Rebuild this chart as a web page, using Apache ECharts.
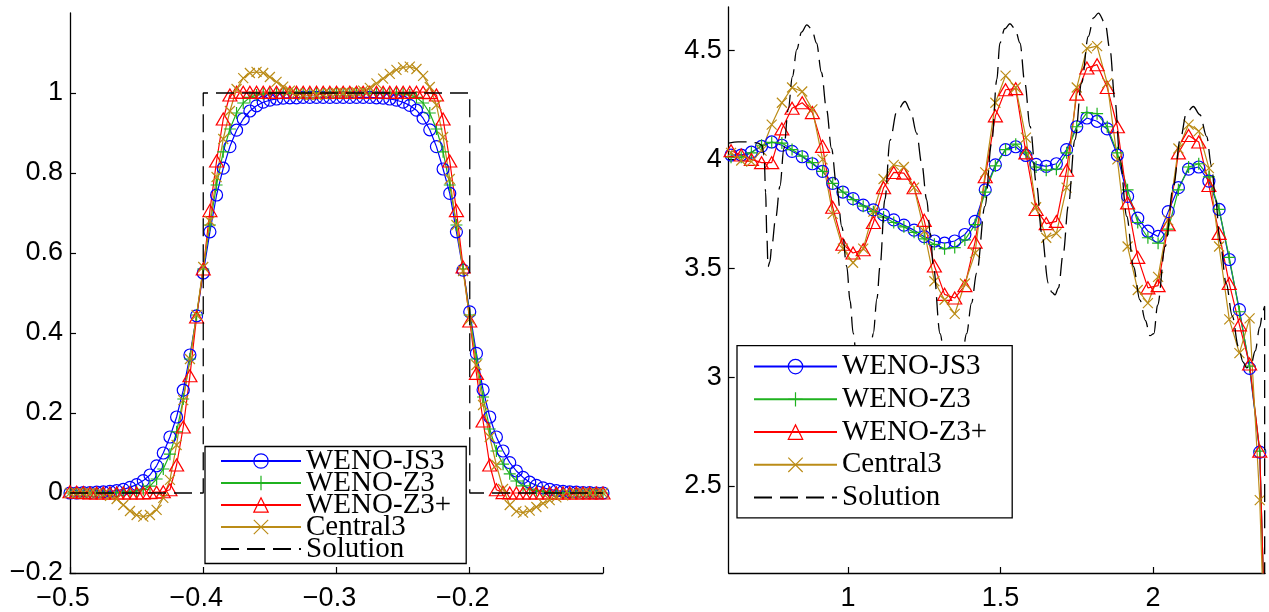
<!DOCTYPE html>
<html>
<head>
<meta charset="utf-8">
<script src="https://cdn.jsdelivr.net/npm/echarts@6/dist/echarts.min.js"></script>
<style>html,body{margin:0;padding:0;background:#fff;}#c{width:1269px;height:612px;}</style>
</head>
<body>
<div id="c"></div>
<script>
// ---------- names ----------
const seriesNames = ['WENO-JS3', 'WENO-Z3', 'WENO-Z3+', 'Central3', 'Solution'];

// ---------- left panel (square wave) ----------
const leftGridStart = -0.5, leftGridStep = 0.005, leftGridCount = 81;
const xLeft = Array.from({length: leftGridCount}, (_, i) => +(leftGridStart + i * leftGridStep).toFixed(4));

const jsLeft = [0,0,0.001,0.001,0.002,0.003,0.004,0.006,0.009,0.014,0.021,0.031,0.045,0.068,0.1,0.14,0.19,0.257,0.345,0.443,
  0.55,0.653,0.745,0.812,0.866,0.907,0.935,0.955,0.968,0.977,0.982,0.985,0.987,0.988,0.988,0.989,0.989,0.989,0.989,0.989,
  0.989,0.989,0.989,0.989,0.989,0.989,0.988,0.987,0.985,0.982,0.977,0.969,0.957,0.937,0.908,0.866,0.81,0.749,0.653,0.557,
  0.453,0.349,0.258,0.19,0.14,0.105,0.076,0.055,0.039,0.027,0.019,0.013,0.009,0.006,0.004,0.003,0.002,0.001,0.001,0,0];
const zLeft = [0,0,0,0,0,0,0.001,0.001,0.002,0.003,0.005,0.009,0.017,0.035,0.06,0.097,0.153,0.235,0.335,0.445,
  0.56,0.67,0.77,0.853,0.91,0.95,0.975,0.989,0.995,0.998,0.999,0.999,0.999,0.999,0.999,0.999,0.999,0.999,0.999,0.999,
  0.999,0.999,0.999,0.999,0.999,0.999,0.999,0.999,0.999,0.999,0.998,0.995,0.989,0.975,0.95,0.91,0.853,0.77,0.67,0.56,
  0.445,0.335,0.24,0.16,0.105,0.072,0.048,0.03,0.018,0.01,0.006,0.004,0.002,0.001,0.001,0.001,0,0,0,0,0];
const zpLeft = [0.003,0.002,0.001,0,0,0,0,0,0,0,0,0,0.001,0.002,0.003,0.008,0.07,0.165,0.293,0.44,
  0.56,0.706,0.83,0.935,0.995,1.002,1.002,1.002,1.002,1.002,1.002,1.002,1.002,1.002,1.002,1.002,1.002,1.002,1.002,1.002,
  1.002,1.002,1.002,1.002,1.002,1.002,1.002,1.002,1.002,1.002,1.002,1.002,1.002,1.002,1.001,0.995,0.935,0.83,0.706,0.565,
  0.43,0.299,0.18,0.07,0.008,0.001,0,0,0,0,0,0,0,0,0,0,0,0,0,0,0];
const cLeft = [0,0,0,0,-0.001,-0.003,-0.007,-0.015,-0.03,-0.045,-0.055,-0.059,-0.055,-0.042,-0.012,0.033,0.12,0.232,0.335,0.445,
  0.565,0.68,0.79,0.885,0.955,1.01,1.037,1.05,1.053,1.05,1.04,1.028,1.016,1.006,0.999,0.995,0.994,0.995,0.997,0.999,
  1.0,1.0,1.0,1.002,1.006,1.013,1.024,1.036,1.048,1.058,1.064,1.066,1.06,1.043,1.015,0.97,0.89,0.785,0.67,0.555,
  0.435,0.32,0.22,0.14,0.07,0.01,-0.03,-0.046,-0.049,-0.044,-0.035,-0.026,-0.018,-0.011,-0.006,-0.003,-0.001,0,0,0,0];
const solLeftX = [-0.5, -0.4, -0.4, -0.2, -0.2, -0.1];
const solLeftY = [0, 0, 1, 1, 0, 0];

const leftXTicks = [-0.5, -0.4, -0.3, -0.2, -0.1];
const leftXLabels = [-0.5, -0.4, -0.3, -0.2];
const leftYTicks = [-0.2, 0, 0.2, 0.4, 0.6, 0.8, 1];

// ---------- right panel (Shu-Osher density) ----------
const rightCellFirst = 168, rightCount = 54, domainLeft = -5, cellsPerUnit = 30;
const xRight = Array.from({length: rightCount}, (_, k) => +(domainLeft + (rightCellFirst + k + 0.5) / cellsPerUnit).toFixed(4));

const jsRight = [4.02,4.02,4.033,4.06,4.08,4.065,4.037,4.012,3.98,3.945,3.89,3.85,3.82,3.79,3.768,3.745,3.722,3.698,3.675,3.645,
  3.625,3.615,3.625,3.655,3.715,3.86,3.975,4.045,4.058,4.018,3.977,3.968,3.98,4.045,4.15,4.19,4.175,4.14,4.02,3.83,
  3.73,3.67,3.646,3.76,3.87,3.955,3.965,3.9,3.77,3.54,3.31,3.04,2.655,1.0];
const zRight = [4.01,4.01,4.03,4.065,4.078,4.075,4.045,4.015,3.985,3.945,3.89,3.85,3.815,3.785,3.76,3.735,3.71,3.69,3.665,3.635,
  3.61,3.59,3.595,3.63,3.7,3.85,3.97,4.045,4.07,4.03,3.965,3.95,3.955,4.03,4.15,4.215,4.21,4.15,4.03,3.86,
  3.71,3.64,3.615,3.68,3.86,3.965,3.98,3.92,3.77,3.55,3.3,3.05,2.66,1.0];
const zpRight = [4.04,4.02,4.0,3.985,3.985,4.14,4.235,4.26,4.215,4.06,3.78,3.61,3.57,3.585,3.71,3.87,3.94,3.937,3.87,3.72,
  3.51,3.38,3.363,3.42,3.62,3.92,4.2,4.32,4.325,4.03,3.77,3.705,3.715,3.95,4.3,4.42,4.435,4.33,4.15,3.8,
  3.55,3.41,3.42,3.7,4.03,4.11,4.08,3.88,3.66,3.43,3.24,3.06,2.66,1.0];
const cRight = [4.03,3.995,3.99,4.04,4.16,4.26,4.33,4.312,4.23,4.0,3.75,3.59,3.525,3.59,3.76,3.91,3.975,3.965,3.87,3.67,
  3.44,3.355,3.29,3.43,3.57,3.94,4.26,4.385,4.33,4.1,3.78,3.64,3.66,3.87,4.33,4.51,4.52,4.35,4.0,3.6,
  3.4,3.34,3.46,3.72,4.05,4.16,4.13,3.96,3.6,3.265,3.11,3.27,2.435,1.0];
const solRightX = [0.609,0.64,0.68,0.705,0.718,0.725,0.73,0.734,0.738,0.744,0.75,0.763,0.777,0.79,0.804,0.818,0.832,0.848,0.865,0.881,
  0.897,0.913,0.93,0.946,0.963,0.98,0.996,1.007,1.017,1.03,1.05,1.07,1.083,1.095,1.105,1.121,1.138,1.16,1.187,1.205,
  1.225,1.242,1.258,1.27,1.28,1.302,1.32,1.345,1.37,1.389,1.405,1.422,1.449,1.471,1.488,1.498,1.514,1.531,1.548,1.564,
  1.58,1.597,1.619,1.635,1.657,1.668,1.679,1.69,1.706,1.722,1.744,1.766,1.788,1.805,1.821,1.843,1.859,1.875,1.892,1.914,
  1.936,1.957,1.975,1.99,2.003,2.015,2.04,2.067,2.089,2.11,2.132,2.154,2.176,2.192,2.205,2.22,2.24,2.26,2.28,2.295,
  2.307,2.322,2.335,2.35,2.36,2.366,2.3662,2.45];
const solRightY = [4.075,4.08,4.08,4.075,4.065,4.02,3.85,3.65,3.507,3.53,3.6,3.73,3.876,4.05,4.228,4.38,4.504,4.585,4.618,4.6,
  4.534,4.4,4.228,4.05,3.876,3.69,3.508,3.35,3.202,3.06,3.0,3.06,3.2,3.36,3.508,3.815,4.088,4.22,4.266,4.225,
  4.121,3.98,3.815,3.66,3.508,3.2,3.04,2.98,3.04,3.2,3.34,3.478,3.784,4.075,4.366,4.534,4.6,4.623,4.6,4.534,
  4.35,4.151,3.876,3.662,3.432,3.39,3.378,3.41,3.57,3.784,4.09,4.351,4.565,4.65,4.672,4.626,4.504,4.274,3.998,3.738,
  3.508,3.355,3.26,3.19,3.2,3.33,3.6,3.876,4.09,4.213,4.243,4.205,4.105,3.968,3.82,3.62,3.43,3.28,3.14,3.07,
  3.042,3.06,3.12,3.23,3.3,3.325,1.0,1.0];

const rightXTicks = [1, 1.5, 2];
const rightYTicks = [2.5, 3, 3.5, 4, 4.5];

// ---------- styles ----------
const colors = {js: '#0000ff', z: '#1fb21f', zp: '#ff0000', c: '#bb8c17', sol: '#000000'};
const plusPath = 'path://M5,0L5,10M0,5L10,5';
const crossPath = 'path://M0,0L10,10M10,0L0,10';
const minus = v => String(v).replace('-', '\u2212');
const pairs = (xs, ys) => xs.map((x, i) => [x, ys[i]]);

function numSeries(name, color, symbol, size, xs, ys, idx) {
  return {
    type: 'line', name, xAxisIndex: idx, yAxisIndex: idx,
    data: pairs(xs, ys),
    symbol, symbolSize: size, showSymbol: true, clip: true,
    lineStyle: {color, width: 1.2},
    itemStyle: {color: 'rgba(0,0,0,0)', borderColor: color, borderWidth: 1.2},
    emphasis: {disabled: true}, z: 2
  };
}
function solSeries(xs, ys, idx, smooth) {
  return {
    type: 'line', name: 'Solution', xAxisIndex: idx, yAxisIndex: idx,
    data: pairs(xs, ys), symbol: 'none', clip: true,
    smooth: smooth, smoothMonotone: smooth ? 'x' : undefined,
    lineStyle: {color: '#000', width: 1.3, type: [18, 8]},
    itemStyle: {color: '#000'},
    emphasis: {disabled: true}, z: 3
  };
}
function panelSeries(xs, js, z, zp, c, idx) {
  return [
    numSeries('WENO-JS3', colors.js, 'circle', 12, xs, js, idx),
    numSeries('WENO-Z3', colors.z, plusPath, 12, xs, z, idx),
    numSeries('WENO-Z3+', colors.zp, 'triangle', [14, 12], xs, zp, idx),
    numSeries('Central3', colors.c, crossPath, 10, xs, c, idx)
  ];
}

const axisBase = {
  axisLine: {show: true, onZero: false, lineStyle: {color: '#000', width: 1.3}},
  splitLine: {show: false},
  axisTick: {show: true, inside: true, length: 6, lineStyle: {color: '#000', width: 1.2}},
  axisLabel: {color: '#000', fontFamily: 'Liberation Sans, Arial, sans-serif', fontSize: 27, formatter: minus}
};
function xAxis(idx, min, max, ticks, labels, pad) {
  return Object.assign({}, axisBase, {
    type: 'value', gridIndex: idx, min, max,
    axisTick: Object.assign({}, axisBase.axisTick, {customValues: ticks}),
    axisLabel: Object.assign({}, axisBase.axisLabel, {customValues: labels, margin: 12, padding: pad})
  });
}
function yAxis(idx, min, max, ticks) {
  return Object.assign({}, axisBase, {
    type: 'value', gridIndex: idx, min, max,
    axisTick: Object.assign({}, axisBase.axisTick, {customValues: ticks}),
    axisLabel: Object.assign({}, axisBase.axisLabel, {customValues: ticks, margin: 7})
  });
}
const legendData = seriesNames.map(n => n === 'Solution'
  ? {name: n, itemStyle: {color: 'rgba(0,0,0,0)', borderColor: 'rgba(0,0,0,0)', borderWidth: 0}}
  : {name: n});
function legend(left, top, padding, itemWidth, lineHeight, gap) {
  return {
    data: legendData, orient: 'vertical', left, top, padding,
    itemWidth, itemHeight: 18, itemGap: gap, selectedMode: false,
    backgroundColor: '#fff', borderColor: '#000', borderWidth: 1.3,
    itemStyle: {borderWidth: 1.2},
    textStyle: {fontFamily: 'Liberation Serif, Times New Roman, serif', fontSize: 29, color: '#000', lineHeight}
  };
}

const chart = echarts.init(document.getElementById('c'), null, {renderer: 'canvas'});
chart.setOption({
  animation: false,
  backgroundColor: '#fff',
  grid: [
    {left: 70, top: 13, width: 533, height: 560, containLabel: false},
    {left: 728.7, top: 7, width: 536.3, height: 566, containLabel: false}
  ],
  xAxis: [xAxis(0, -0.5, -0.1, leftXTicks, leftXLabels, [0, 14, 0, 0]), xAxis(1, 0.609, 2.3672, rightXTicks, rightXTicks, 0)],
  yAxis: [yAxis(0, -0.2, 1.2, leftYTicks), yAxis(1, 2.1, 4.7, rightYTicks)],
  legend: [
    legend(205, 446.5, [0, 15, 0, 15], 80, 29, -7),
    legend(737, 345.7, [4.5, 25, 4, 16], 83, 32.75, 0)
  ],
  series: [
    ...panelSeries(xLeft, jsLeft, zLeft, zpLeft, cLeft, 0),
    solSeries(solLeftX, solLeftY, 0, false),
    ...panelSeries(xRight, jsRight, zRight, zpRight, cRight, 1),
    solSeries(solRightX, solRightY, 1, 0.35)
  ]
});
</script>
</body>
</html>
